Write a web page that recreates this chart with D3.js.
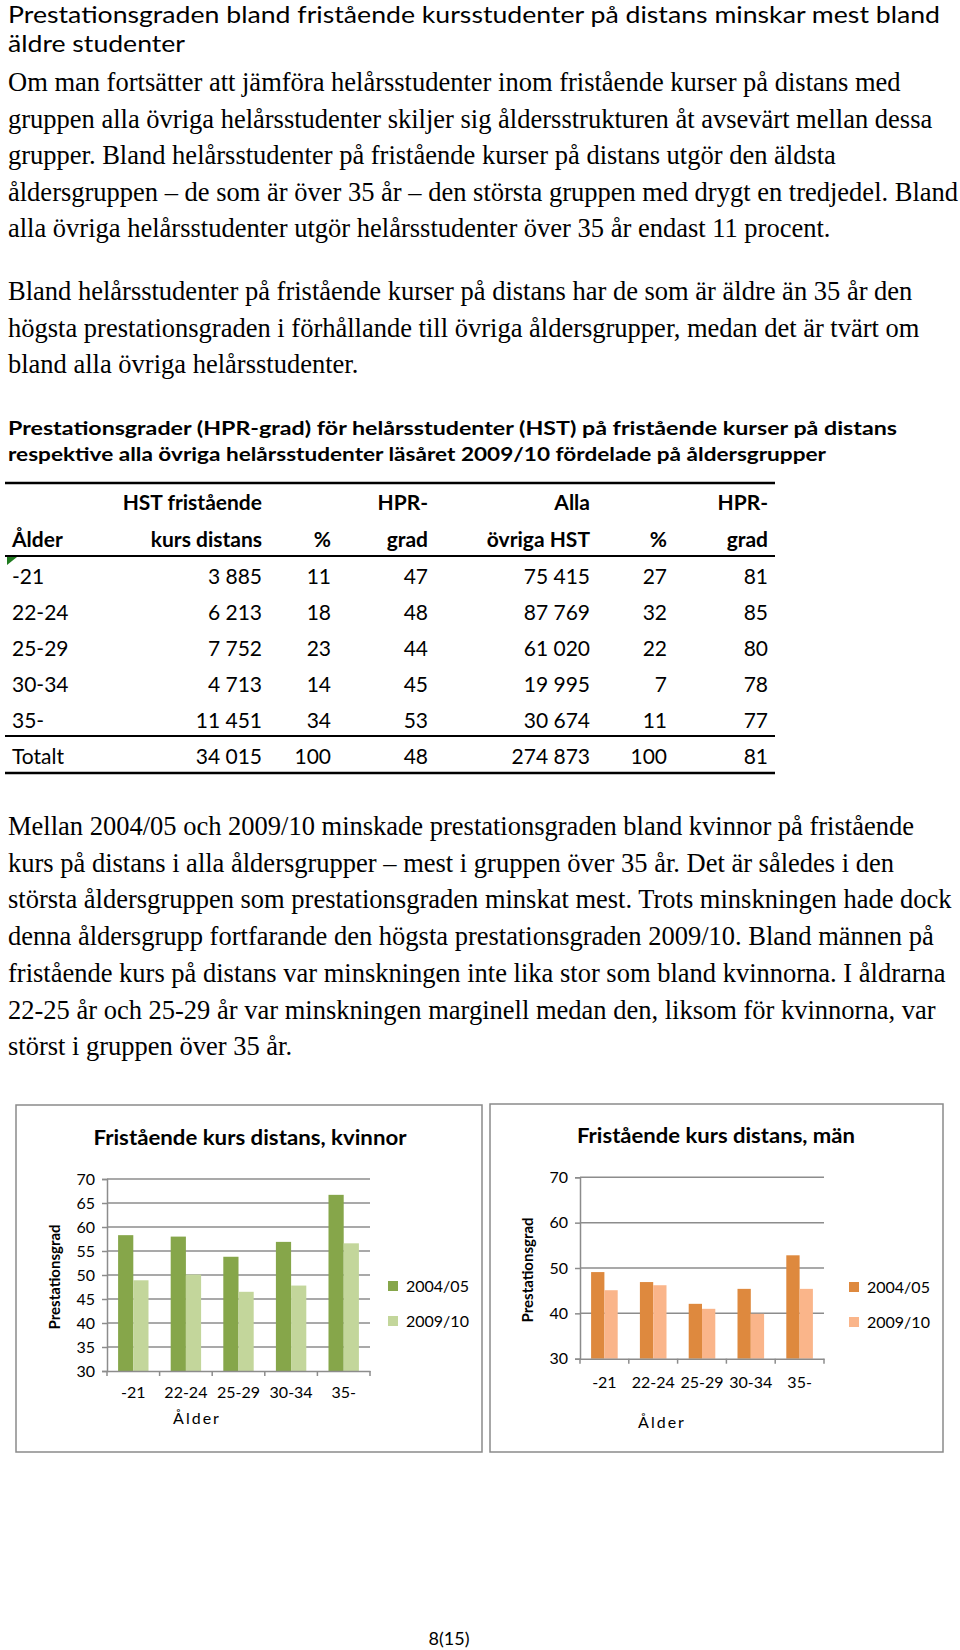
<!DOCTYPE html>
<html><head><meta charset="utf-8">
<script src="https://cdn.jsdelivr.net/npm/d3@7"></script>
<style>body{margin:0;background:#fff}svg{display:block}</style>
</head><body>
<script>
// ---------- DATA ----------
const ageGroups = ["-21", "22-24", "25-29", "30-34", "35-"];
const seriesNames = ["2004/05", "2009/10"];
const women0405 = [58.3, 58.0, 53.8, 56.9, 66.7];
const women0910 = [48.9, 50.1, 46.5, 47.8, 56.6];
const men0405 = [49.1, 46.9, 42.1, 45.4, 52.8];
const men0910 = [45.1, 46.2, 41.0, 39.9, 45.4];
const womenTicks = [30, 35, 40, 45, 50, 55, 60, 65, 70];
const menTicks = [30, 40, 50, 60, 70];

const tableAges = ["-21", "22-24", "25-29", "30-34", "35-", "Totalt"];
const hstDistans = [3885, 6213, 7752, 4713, 11451, 34015];
const pctDistans = [11, 18, 23, 14, 34, 100];
const hprDistans = [47, 48, 44, 45, 53, 48];
const hstOvriga = [75415, 87769, 61020, 19995, 30674, 274873];
const pctOvriga = [27, 32, 22, 7, 11, 100];
const hprOvriga = [81, 85, 80, 78, 77, 81];

const titleLines = ["Prestationsgraden bland fristående kursstudenter på distans minskar mest bland", "äldre studenter"];
const para1 = [
  "Om man fortsätter att jämföra helårsstudenter inom fristående kurser på distans med",
  "gruppen alla övriga helårsstudenter skiljer sig åldersstrukturen åt avsevärt mellan dessa",
  "grupper. Bland helårsstudenter på fristående kurser på distans utgör den äldsta",
  "åldersgruppen – de som är över 35 år – den största gruppen med drygt en tredjedel. Bland",
  "alla övriga helårsstudenter utgör helårsstudenter över 35 år endast 11 procent."
];
const para2 = [
  "Bland helårsstudenter på fristående kurser på distans har de som är äldre än 35 år den",
  "högsta prestationsgraden i förhållande till övriga åldersgrupper, medan det är tvärt om",
  "bland alla övriga helårsstudenter."
];
const captionLines = [
  "Prestationsgrader (HPR-grad) för helårsstudenter (HST) på fristående kurser på distans",
  "respektive alla övriga helårsstudenter läsåret 2009/10 fördelade på åldersgrupper"
];
const para3 = [
  "Mellan 2004/05 och 2009/10 minskade prestationsgraden bland kvinnor på fristående",
  "kurs på distans i alla åldersgrupper – mest i gruppen över 35 år. Det är således i den",
  "största åldersgruppen som prestationsgraden minskat mest. Trots minskningen hade dock",
  "denna åldersgrupp fortfarande den högsta prestationsgraden 2009/10. Bland männen på",
  "fristående kurs på distans var minskningen inte lika stor som bland kvinnorna. I åldrarna",
  "22-25 år och 25-29 år var minskningen marginell medan den, liksom för kvinnorna, var",
  "störst i gruppen över 35 år."
];

// ---------- DRAW ----------
const W = 960, H = 1650;
const svg = d3.select("body").append("svg").attr("width", W).attr("height", H);
const SANS = "Lato, 'Open Sans', sans-serif";
const SERIF = "'Liberation Serif', 'Times New Roman', Times, serif";

function textBlock(lines, x, y0, dy, size, family, weight, widths) {
  lines.forEach((t, i) => {
    const el = svg.append("text").attr("x", x).attr("y", y0 + i * dy)
      .attr("font-family", family).attr("font-size", size).attr("font-weight", weight)
      .attr("fill", "#000").text(t);
    if (widths && widths[i]) el.attr("textLength", widths[i]).attr("lengthAdjust", "spacingAndGlyphs");
  });
}

textBlock(titleLines, 8, 23, 29, 23, SANS, 400, [932, 177]);
textBlock(para1, 8, 91, 36.6, 26.5, SERIF, 400, null);
textBlock(para2, 8, 300, 36.5, 26.5, SERIF, 400, null);
textBlock(captionLines, 8, 435, 26, 18, SANS, 700, [889, 818]);
textBlock(para3, 8, 835, 36.7, 26.5, SERIF, 400, null);

// ---------- TABLE ----------
const fmt = v => d3.format(",")(v).replace(/,/g, " ");
const tbl = svg.append("g").attr("font-family", SANS).attr("font-size", 21);
[[483, 2.5], [556, 2], [736, 2], [773, 2.5]].forEach(([y, w]) =>
  tbl.append("line").attr("x1", 5).attr("x2", 775).attr("y1", y).attr("y2", y)
    .attr("stroke", "#000").attr("stroke-width", w));
tbl.append("path").attr("d", "M7,557 L17,557 L7,565 Z").attr("fill", "#1f7a1f");

const colX = [262, 331, 428, 590, 667, 768];
const head1 = ["HST fristående", "", "HPR-", "Alla", "", "HPR-"];
const head2 = ["kurs distans", "%", "grad", "övriga HST", "%", "grad"];
tbl.append("text").attr("x", 12).attr("y", 547).attr("font-weight", 700).text("Ålder");
head1.forEach((t, i) => tbl.append("text").attr("x", colX[i]).attr("y", 510)
  .attr("text-anchor", "end").attr("font-weight", 700).text(t));
head2.forEach((t, i) => tbl.append("text").attr("x", colX[i]).attr("y", 547)
  .attr("text-anchor", "end").attr("font-weight", 700).text(t));
const rowY = d3.scaleLinear().domain([0, 5]).range([584, 764]);
const cols = [hstDistans.map(fmt), pctDistans, hprDistans, hstOvriga.map(fmt), pctOvriga, hprOvriga];
tableAges.forEach((a, r) => {
  tbl.append("text").attr("x", 12).attr("y", rowY(r)).text(a);
  cols.forEach((c, i) => tbl.append("text").attr("x", colX[i]).attr("y", rowY(r))
    .attr("text-anchor", "end").text(c[r]));
});

// ---------- CHARTS ----------
function barChart(cfg) {
  const g = svg.append("g").attr("font-family", SANS);
  g.append("rect").attr("x", cfg.box[0]).attr("y", cfg.box[1]).attr("width", cfg.box[2] - cfg.box[0])
    .attr("height", cfg.box[3] - cfg.box[1]).attr("fill", "#fff").attr("stroke", "#8a8a8a").attr("stroke-width", 1.5);
  const x = d3.scaleBand().domain(ageGroups).range([cfg.left, cfg.right]).padding(0);
  const y = d3.scaleLinear().domain([30, 70]).range([cfg.bottom, cfg.top]);
  const sub = d3.scaleBand().domain(seriesNames).range([0, 2 * cfg.barW]).padding(0);
  g.selectAll(".grid").data(cfg.ticks.filter(t => t > 30)).join("line")
    .attr("x1", cfg.left).attr("x2", cfg.right).attr("y1", d => y(d)).attr("y2", d => y(d))
    .attr("stroke", "#8c8c8c").attr("stroke-width", 1.5);
  const data = cfg.series;
  ageGroups.forEach((a, i) => {
    const x0 = x(a) + x.bandwidth() / 2 - cfg.barW;
    seriesNames.forEach((s, j) => {
      g.append("rect").attr("x", x0 + sub(s)).attr("width", sub.bandwidth())
        .attr("y", y(data[j][i])).attr("height", y(30) - y(data[j][i])).attr("fill", cfg.colors[j]);
    });
  });
  const ya = g.append("g").attr("transform", `translate(${cfg.left},0)`)
    .call(d3.axisLeft(y).tickValues(cfg.ticks).tickSize(5).tickPadding(7).tickFormat(d3.format("d")));
  ya.select(".domain").attr("stroke", "#8c8c8c").attr("stroke-width", 1.5);
  ya.selectAll(".tick line").attr("stroke", "#8c8c8c").attr("stroke-width", 1.5);
  ya.selectAll(".tick text").attr("font-size", 16).attr("font-family", SANS).attr("fill", "#000");
  const xa = g.append("g").attr("transform", `translate(0,${cfg.bottom})`)
    .call(d3.axisBottom(x).tickSize(0).tickPadding(cfg.xPad));
  xa.select(".domain").attr("stroke", "#8c8c8c").attr("stroke-width", 1.5);
  xa.selectAll(".tick text").attr("font-size", 16).attr("font-family", SANS).attr("fill", "#000");
  const edges = ageGroups.map(a => x(a)).concat([cfg.right]);
  g.selectAll(".edge").data(edges).join("line").attr("x1", d => d).attr("x2", d => d)
    .attr("y1", cfg.bottom).attr("y2", cfg.bottom + 5).attr("stroke", "#8c8c8c").attr("stroke-width", 1.5);
  g.append("text").attr("x", cfg.titleX).attr("y", cfg.titleY).attr("text-anchor", "middle")
    .attr("font-size", 20).attr("font-weight", 700).attr("textLength", cfg.titleW)
    .attr("lengthAdjust", "spacingAndGlyphs").text(cfg.title);
  g.append("text").attr("transform", `translate(${cfg.ylabX},${cfg.ylabY}) rotate(-90)`)
    .attr("text-anchor", "middle").attr("font-size", 15).attr("font-weight", 700).text("Prestationsgrad");
  g.append("text").attr("x", cfg.xlabX).attr("y", cfg.xlabY).attr("text-anchor", "middle")
    .attr("font-size", 16).attr("letter-spacing", 2).text("Ålder");
  seriesNames.forEach((s, j) => {
    g.append("rect").attr("x", cfg.legX).attr("y", cfg.legY + j * 35 - 5).attr("width", 10).attr("height", 10)
      .attr("fill", cfg.colors[j]);
    g.append("text").attr("x", cfg.legX + 18).attr("y", cfg.legY + j * 35 + 6).attr("font-size", 16).text(s);
  });
}

barChart({
  box: [16, 1105, 482, 1452], left: 107, right: 370, top: 1179, bottom: 1371, barW: 15.2,
  ticks: womenTicks, series: [women0405, women0910], colors: ["#86a64a", "#c3d69b"],
  title: "Fristående kurs distans, kvinnor", titleX: 250, titleY: 1145, titleW: 313,
  ylabX: 60, ylabY: 1277, xlabX: 197, xlabY: 1424, xPad: 16, legX: 388, legY: 1286
});
barChart({
  box: [490, 1104, 943, 1452], left: 580, right: 824, top: 1177.3, bottom: 1358.7, barW: 13.3,
  ticks: menTicks, series: [men0405, men0910], colors: ["#de893e", "#fab58a"],
  title: "Fristående kurs distans, män", titleX: 716, titleY: 1143, titleW: 278,
  ylabX: 533, ylabY: 1270, xlabX: 662, xlabY: 1428, xPad: 18, legX: 849, legY: 1287
});

svg.append("text").attr("x", 449).attr("y", 1645).attr("text-anchor", "middle")
  .attr("font-family", SANS).attr("font-size", 18).text("8(15)");
</script>
</body></html>
